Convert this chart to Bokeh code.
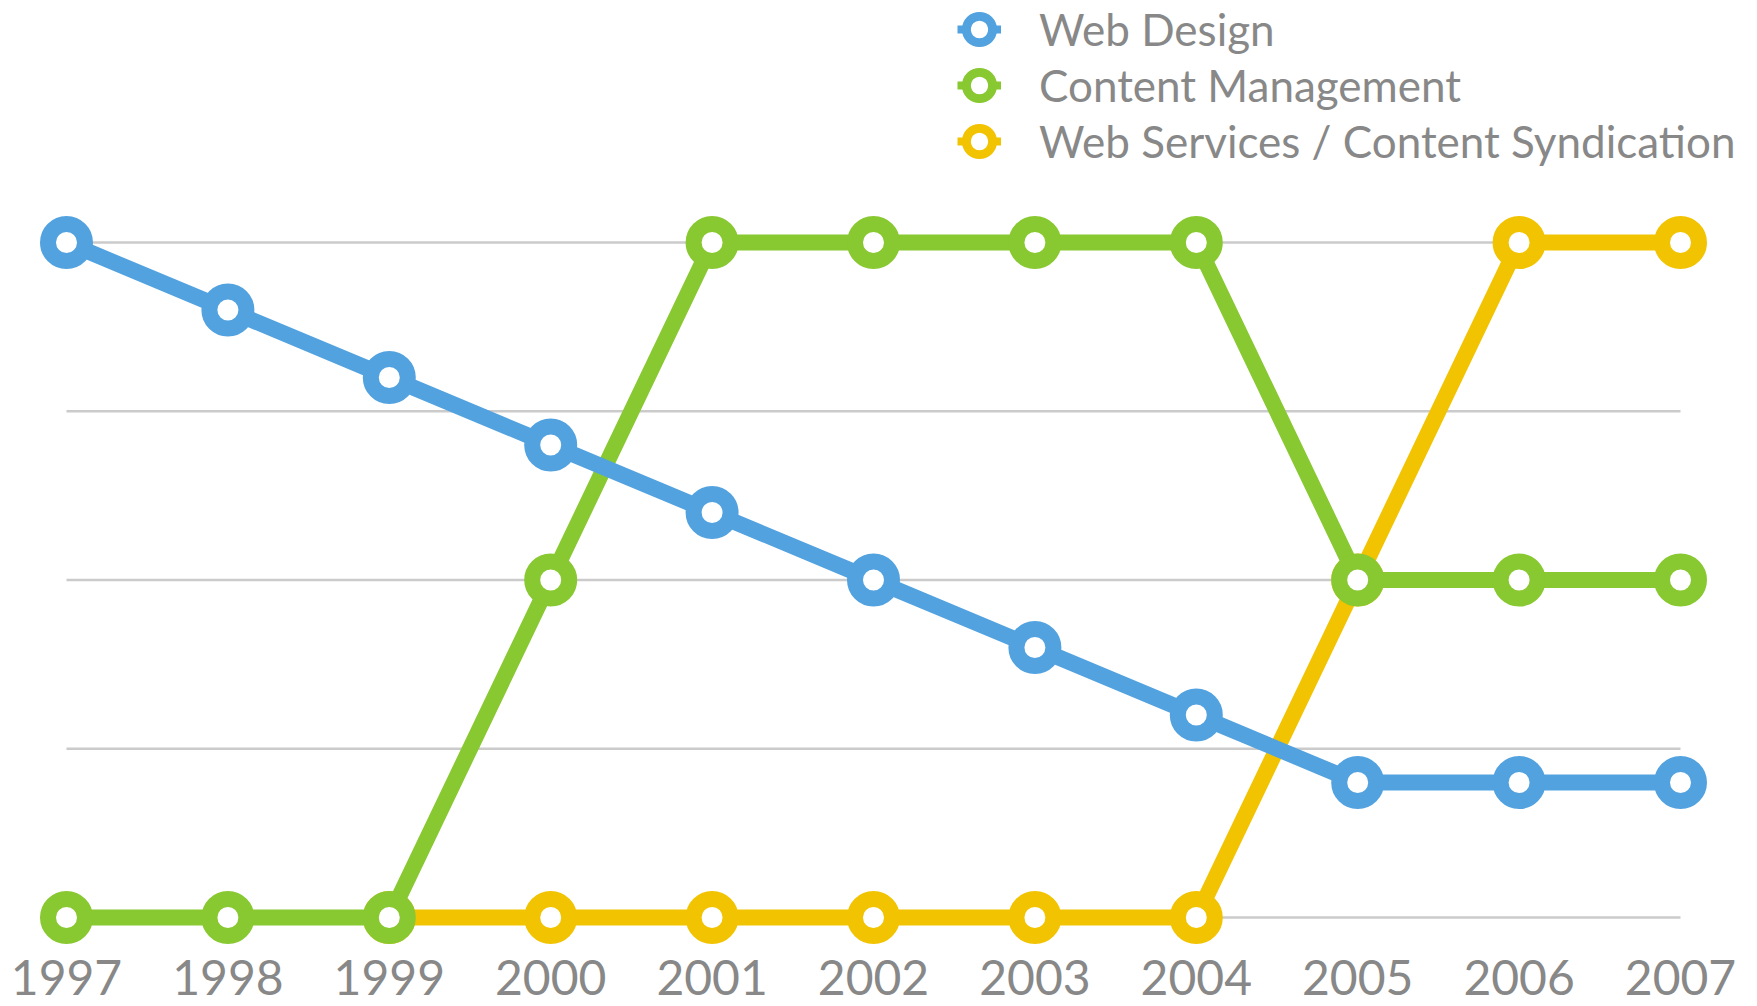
import math
from bokeh.plotting import figure
from bokeh.models import Range1d, Legend, LegendItem, ColumnDataSource
from bokeh.core.properties import value
from bokeh.embed import file_html
from bokeh.resources import INLINE

# ---- data ----
YEARS = [1997, 1998, 1999, 2000, 2001, 2002, 2003, 2004, 2005, 2006, 2007]
YEAR_LABELS = [str(y) for y in YEARS]
WEB_DESIGN = [4.0, 3.6, 3.2, 2.8, 2.4, 2.0, 1.6, 1.2, 0.8, 0.8, 0.8]
CONTENT_MANAGEMENT = [0, 0, 0, 2, 4, 4, 4, 4, 2, 2, 2]
WEB_SERVICES = [math.nan, math.nan, 0, 0, 0, 0, 0, 0, 2, 4, 4]
SERIES_NAMES = ["Web Design", "Content Management", "Web Services / Content Syndication"]
GRID_VALUES = [0, 1, 2, 3, 4]

# ---- style ----
BLUE = "#52a2e0"
GREEN = "#88c830"
YELLOW = "#f2c300"
TEXT = "#888888"
GRID = "#cbcbcb"
FONT = "Lato"

W, H = 1757, 1006
p = figure(width=W, height=H,
           x_range=Range1d(1996.5911, 2007.4771),
           y_range=Range1d(-0.5274, 5.4341),
           output_backend="svg", toolbar_location=None,
           x_axis_location=None, y_axis_location=None,
           min_border=0)
p.grid.visible = False
p.outline_line_color = None
p.background_fill_color = "white"
p.border_fill_color = "white"

# gridlines spanning first to last year
p.segment(x0=YEARS[0], x1=YEARS[-1], y0=GRID_VALUES, y1=GRID_VALUES,
          line_color=GRID, line_width=2.5)

series = [
    (SERIES_NAMES[2], WEB_SERVICES, YELLOW),
    (SERIES_NAMES[1], CONTENT_MANAGEMENT, GREEN),
    (SERIES_NAMES[0], WEB_DESIGN, BLUE),
]
for name, vals, col in series:
    src = ColumnDataSource(dict(x=YEARS, y=vals))
    p.line("x", "y", source=src, line_color=col, line_width=16, line_join="round")
    p.scatter("x", "y", source=src, size=37, line_width=16,
              line_color=col, fill_color="white")

# year labels under the baseline
lab = ColumnDataSource(dict(x=YEARS, y=[GRID_VALUES[0]] * len(YEARS), t=YEAR_LABELS))
p.text("x", "y", text="t", source=lab, y_offset=60,
       text_align="center", text_baseline="alphabetic",
       text_font=value(FONT), text_font_size="48px", text_color=TEXT)

# legend (dummy renderers carry legend styling)
items = []
for name, col in zip(SERIES_NAMES, [BLUE, GREEN, YELLOW]):
    nan = [math.nan]
    lr = p.line(x=nan, y=nan, line_color=col, line_width=8)
    wr = p.scatter(x=nan, y=nan, size=10, fill_color="white", line_alpha=0)
    ar = p.annulus(x=nan, y=nan, inner_radius=0.1, outer_radius=0.2,
                   fill_color=col, line_alpha=0)
    items.append(LegendItem(label=name, renderers=[lr, wr, ar]))

legend = Legend(items=items, location=(957, 839), orientation="vertical",
                glyph_width=44, glyph_height=44, label_height=50, spacing=4,
                padding=0, margin=0, label_standoff=38,
                label_text_font=FONT, label_text_font_size="44px",
                label_text_color=TEXT, border_line_alpha=0,
                background_fill_alpha=0)
p.add_layout(legend)

open("out.html", "w").write(file_html(p, INLINE))
